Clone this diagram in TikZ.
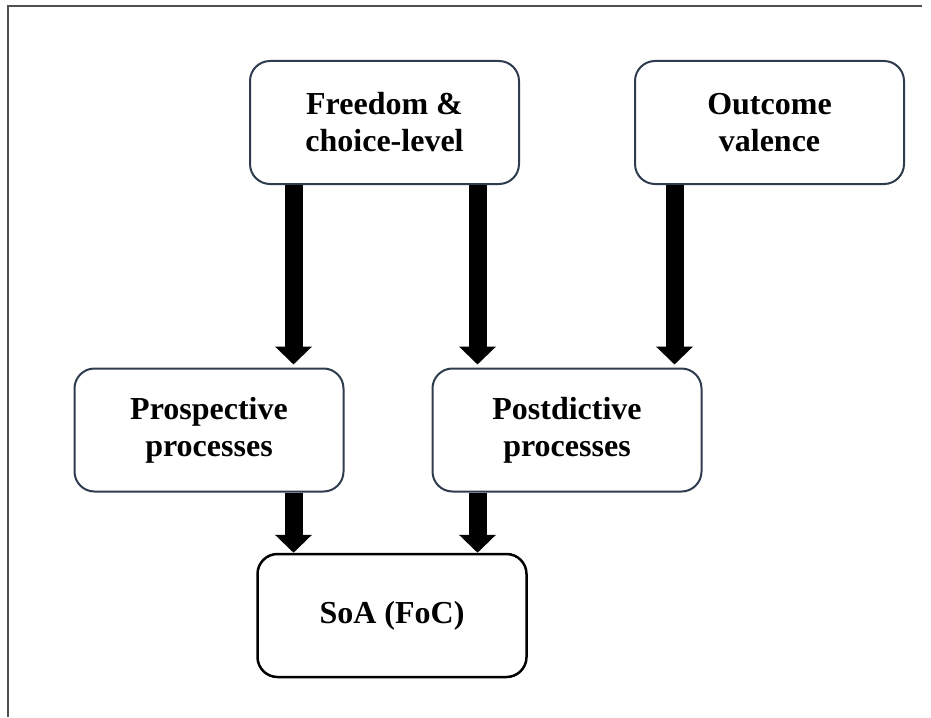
\documentclass[tikz,border=0pt]{standalone}
\usepackage{fontspec}
\setmainfont{Liberation Serif}
\usetikzlibrary{arrows.meta,positioning}
\definecolor{boxslate}{HTML}{2F3B4E}
\definecolor{framegray}{HTML}{505050}

\begin{document}
\begin{tikzpicture}[
    x=1pt, y=-1pt,
    font=\bfseries\fontsize{32}{37}\selectfont,
    box/.style={draw=boxslate, rounded corners=20pt, line width=2pt, align=center, minimum width=269pt, minimum height=123pt, inner sep=0pt, fill=white},
    fat/.style={line width=18pt, -{Triangle[width=36pt,length=18pt]}}
]
\useasboundingbox (0,0) rectangle (931,717);
\draw[framegray, line width=2.5pt] (8,717) -- (8,6) -- (922,6);

\node[box] (freedom) at (384.5,122.5) {Freedom \&\\choice-level};
\node[box, right=114pt of freedom] (outcome) {Outcome\\valence};
\node[box] (prosp) at (209,430) {Prospective\\processes};
\node[box, right=87pt of prosp] (postd) {Postdictive\\processes};
\node[box, draw=black, line width=2.5pt] (soa) at (392,615.5) {SoA (FoC)};

% lanes for the block arrows
\coordinate (lane1) at ([xshift=-91pt]freedom.south);
\coordinate (lane2) at ([xshift=93pt]freedom.south);
\coordinate (lane3) at ([xshift=-95pt]outcome.south);

\draw[fat, shorten >=3pt] (lane1) -- (lane1 |- prosp.north);
\draw[fat, shorten >=3pt] (lane2) -- (lane2 |- postd.north);
\draw[fat, shorten >=3pt] (lane3) -- (lane3 |- postd.north);
\draw[fat] (lane1 |- prosp.south) -- (lane1 |- soa.north);
\draw[fat] (lane2 |- postd.south) -- (lane2 |- soa.north);
\end{tikzpicture}
\end{document}
